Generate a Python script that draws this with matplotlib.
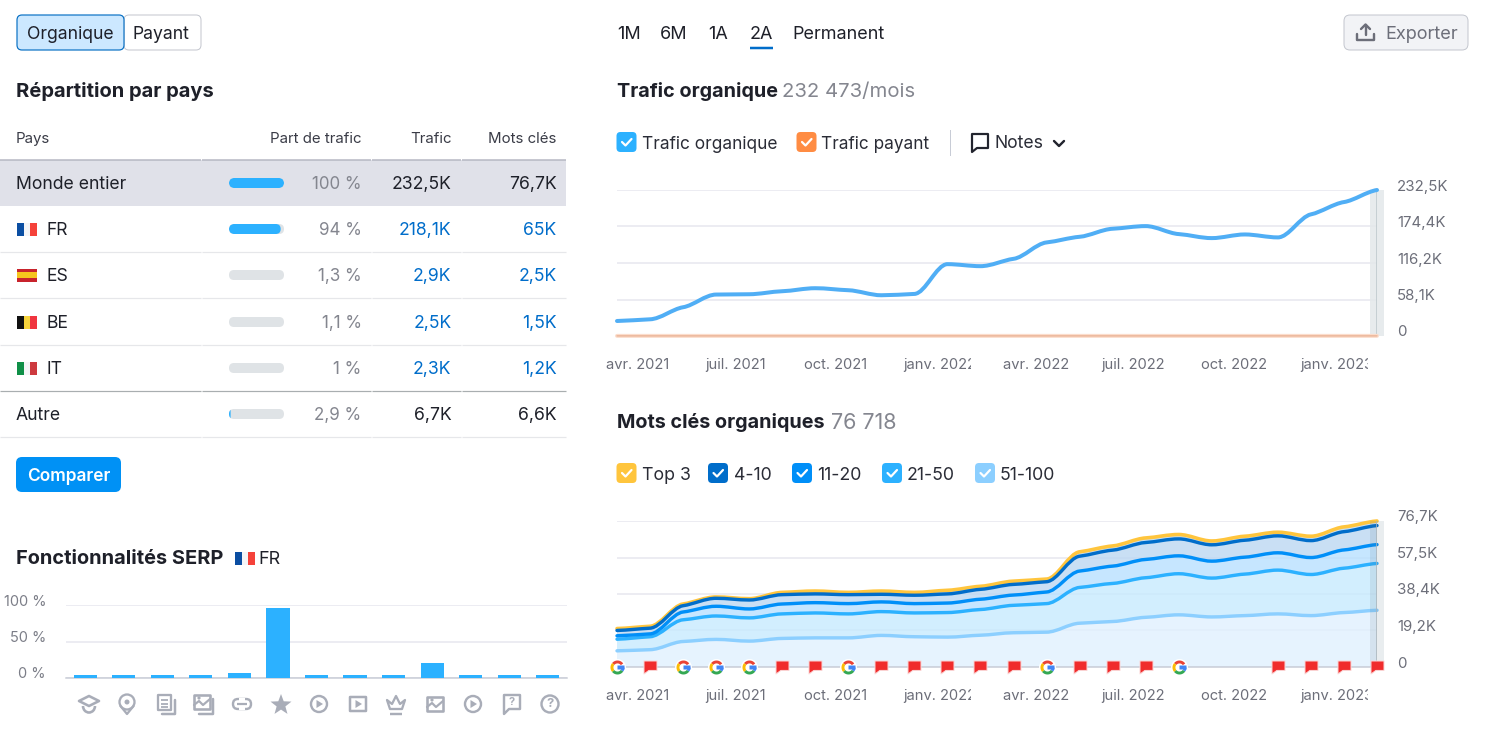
#!/usr/bin/env python
"""Semrush style overview panel: country table, SERP features, traffic and keywords."""
import numpy as np
import matplotlib
matplotlib.use("Agg")
import matplotlib.pyplot as plt
from matplotlib.patches import Circle, FancyBboxPatch, PathPatch, Polygon, Rectangle, Arc
from matplotlib.path import Path
from matplotlib.transforms import Bbox, ScaledTranslation

W, H = 1485, 736
FONT = ["Inter", "DejaVu Sans"]
INK = "#1e2029"
GREY = "#6c6e79"
LINK = "#006dca"
GRID = "#e6e7ef"
ICON = "#a9adb8"

# country table
rows = ["Monde entier", "FR", "ES", "BE", "IT", "Autre"]
part = [100, 94, 1.3, 1.1, 1, 2.9]
part_labels = ["100 %", "94 %", "1,3 %", "1,1 %", "1 %", "2,9 %"]
trafic_labels = ["232,5K", "218,1K", "2,9K", "2,5K", "2,3K", "6,7K"]
mots_labels = ["76,7K", "65K", "2,5K", "1,5K", "1,2K", "6,6K"]

# SERP features
serp_values = [4, 4, 4, 4, 6.5, 96, 4, 4, 4, 20, 4, 4, 4]
serp_ticks = [0, 50, 100]
serp_ticklabels = ["0 %", "50 %", "100 %"]

# monthly series, avr. 2021 -> mars 2023
trafic = [23.9, 26.6, 45.8, 66.0, 66.5, 71.3, 76.1, 72.9, 64.9, 67.0, 114.4, 111.2,
          122.9, 149.0, 158.0, 170.8, 175.0, 162.3, 155.9, 161.7, 157.0, 193.7, 213.3, 232.5]
payant = [0.2] * 24
top3 = [20.2, 21.4, 33.1, 36.8, 35.9, 39.2, 39.9, 39.2, 39.9, 39.2, 40.3, 42.4,
        45.1, 46.2, 60.5, 63.6, 67.8, 69.6, 66.2, 68.7, 70.8, 68.7, 73.6, 76.7]
pos_4_10 = [19.2, 20.4, 32.2, 36.1, 35.2, 38.0, 38.4, 38.0, 38.2, 37.7, 38.4, 40.8,
            43.4, 44.8, 58.2, 61.4, 65.4, 67.3, 64.2, 66.6, 68.9, 66.4, 71.1, 74.3]
pos_11_20 = [16.4, 17.4, 28.9, 31.9, 30.5, 33.1, 33.8, 33.3, 34.2, 33.3, 33.6, 35.6,
             37.8, 39.4, 50.4, 53.0, 56.5, 58.4, 55.6, 57.7, 60.0, 57.5, 61.5, 64.3]
pos_21_50 = [14.6, 15.9, 24.8, 26.8, 25.8, 27.9, 28.4, 27.9, 29.1, 28.4, 28.6, 30.2,
             32.4, 33.3, 41.8, 43.9, 46.9, 49.0, 46.7, 48.8, 50.9, 48.6, 51.9, 54.4]
pos_51_100 = [8.5, 9.1, 13.4, 14.5, 13.6, 15.0, 15.3, 15.3, 16.6, 15.9, 15.7, 16.7,
              18.0, 18.3, 23.0, 23.9, 26.1, 27.4, 26.3, 27.0, 27.9, 27.0, 28.6, 29.8]

date_ticks = [0, 3, 6, 9, 12, 15, 18, 21]
date_labels = ["avr. 2021", "juil. 2021", "oct. 2021", "janv. 2022",
               "avr. 2022", "juil. 2022", "oct. 2022", "janv. 2023"]
trafic_ticks = [0, 58.1, 116.2, 174.4, 232.5]
trafic_ticklabels = ["0", "58,1K", "116,2K", "174,4K", "232,5K"]
mots_ticks = [0, 19.2, 38.4, 57.5, 76.7]
mots_ticklabels = ["0", "19,2K", "38,4K", "57,5K", "76,7K"]

# notes under the keyword chart (month index)
google_events = [0, 2, 3, 4, 7, 13, 17]
flag_events = [1, 5, 6, 8, 9, 10, 11, 12, 14, 15, 16, 20, 21, 22, 23]


def pt(px):
    return px * 0.72


fig = plt.figure(figsize=(W / 100, H / 100), dpi=100, facecolor="white")
ui = fig.add_axes([0, 0, 1, 1], zorder=0)
ui.set_xlim(0, W)
ui.set_ylim(H, 0)
ui.axis("off")


def txt(x, y, s, size=16, color=INK, ha="left", weight="normal"):
    return ui.text(x, y, s, fontsize=pt(size), color=color, ha=ha, va="center_baseline",
                   family=FONT, fontweight=weight)


def rbox(x0, y0, x1, y1, r, fc, ec="none", lw=1, z=2):
    p = FancyBboxPatch((x0 + r, y0 + r), x1 - x0 - 2 * r, y1 - y0 - 2 * r,
                       boxstyle=f"round,pad={r},rounding_size={r}", fc=fc, ec=ec,
                       lw=pt(lw), zorder=z)
    ui.add_patch(p)
    return p


def hline(x0, x1, y, color, lw=1.0):
    ui.plot([x0, x1], [y, y], color=color, lw=pt(lw), solid_capstyle="butt")


def stroke(points, color=ICON, lw=2.0, closed=False, z=3):
    ui.add_patch(Polygon(points, closed=closed, fill=False, ec=color, lw=pt(lw), zorder=z,
                         joinstyle="round", capstyle="round"))


def checkbox(x, y, color):
    rbox(x, y, x + 20, y + 20, 4, color)
    stroke([(x + 5.5, y + 10), (x + 9, y + 13.5), (x + 15, y + 7)], "white", 2.2, z=4)


def flag(x, cy, colors, horizontal=False):
    w, h = 20, 13
    if horizontal:
        ui.add_patch(Rectangle((x, cy - h / 2), w, h, fc=colors[0], ec="none"))
        ui.add_patch(Rectangle((x, cy - h / 4), w, h / 2, fc=colors[1], ec="none"))
        return
    for i, c in enumerate(colors):
        ui.add_patch(Rectangle((x + i * w / 3, cy - h / 2), w / 3, h, fc=c, ec="none"))


def px_axes(left, top, right, bottom):
    a = fig.add_axes([left / W, 1 - bottom / H, (right - left) / W, (bottom - top) / H], zorder=2)
    a.patch.set_alpha(0)
    for s in a.spines.values():
        s.set_visible(False)
    return a


def mono_curve(x, y, flat=0.45):
    """Bezier vertices through the points, tangents eased so each month makes a small shelf."""
    x = np.asarray(x, float)
    y = np.asarray(y, float)
    sec = np.diff(y) / np.diff(x)
    m = np.zeros(len(x))
    for i in range(1, len(x) - 1):
        if sec[i - 1] * sec[i] > 0:
            m[i] = flat * 2 * sec[i - 1] * sec[i] / (sec[i - 1] + sec[i])
    m[0], m[-1] = flat * sec[0], flat * sec[-1]
    verts = [(x[0], y[0])]
    for i in range(len(x) - 1):
        h = (x[i + 1] - x[i]) / 3
        verts += [(x[i] + h, y[i] + m[i] * h), (x[i + 1] - h, y[i + 1] - m[i + 1] * h),
                  (x[i + 1], y[i + 1])]
    return verts


def draw_line(ax, x, y, color, lw=3.0, z=4):
    v = mono_curve(x, y)
    codes = [Path.MOVETO] + [Path.CURVE4] * (len(v) - 1)
    ax.add_patch(PathPatch(Path(v, codes), fc="none", ec=color, lw=pt(lw), zorder=z,
                           clip_on=False, capstyle="round"))


def draw_band(ax, x, upper, lower, color, alpha, z=2):
    top = mono_curve(x, upper)
    bot = mono_curve(x, lower)[::-1]
    curve = [Path.CURVE4] * (len(top) - 1)
    codes = [Path.MOVETO] + curve + [Path.LINETO] + curve + [Path.CLOSEPOLY]
    verts = top + bot + [top[0]]
    ax.add_patch(PathPatch(Path(verts, codes), fc=color, ec="none", alpha=alpha, zorder=z))


def style_time_axis(ax, ymax, ticks, ticklabels):
    ax.set_xlim(0, 23)
    ax.set_ylim(0, ymax)
    ax.set_yticks(ticks, ticklabels)
    ax.yaxis.tick_right()
    ax.grid(axis="y", color=GRID, lw=pt(1.5))
    ax.set_axisbelow(True)
    ax.tick_params(axis="y", length=0, pad=pt(20), labelsize=pt(15), labelcolor=GREY)
    up = ScaledTranslation(0, 5 / 100, fig.dpi_scale_trans)
    for lab in ax.get_yticklabels():
        lab.set_family(FONT)
        lab.set_transform(lab.get_transform() + up)
    ax.set_xticks(date_ticks, date_labels)
    ax.tick_params(axis="x", length=0, pad=pt(22), labelsize=pt(14.7), labelcolor=GREY)
    shift = ScaledTranslation(-11 / 100, 0, fig.dpi_scale_trans)
    for i, lab in enumerate(ax.get_xticklabels()):
        lab.set_family(FONT)
        lab.set_ha("left")
        lab.set_transform(lab.get_transform() + shift)
        # the axis clips each label to its slot
        left = 617 + date_ticks[i] * 760 / 23 - 11
        lab.set_clip_box(Bbox([[left - 2, 0], [left + 68, H]]))
        lab.set_clip_on(True)


# ---- left column ----
rbox(124, 15, 201, 50, 5, "white", "#c4c7cf", 1)
rbox(17, 15, 124, 50, 5, "#cce8ff", "#0a71c4", 1.2, z=3)
txt(27, 32.5, "Organique", 17.6).set_zorder(4)
txt(133, 32.5, "Payant", 17.6)
txt(16, 89.5, "Répartition par pays", 20.1, weight="bold")

txt(16, 137.5, "Pays", 15, "#3a3c47")
txt(361.5, 137.5, "Part de trafic", 15, "#3a3c47", "right")
txt(451.5, 137.5, "Trafic", 15, "#3a3c47", "right")
txt(556.5, 137.5, "Mots clés", 15, "#3a3c47", "right")

ui.add_patch(Rectangle((0, 160), 566, 46, fc="#e0e1e9", ec="none"))
for x0, x1 in [(0, 201), (202, 371), (372, 461), (462, 566)]:
    hline(x0, x1, 159.5, "#b5b7c2", 1.5)
    hline(x0, x1, 251.5, "#e6e7ea", 1.2)
    hline(x0, x1, 297.5, "#e6e7ea", 1.2)
    hline(x0, x1, 344.5, "#e6e7ea", 1.2)
    hline(x0, x1, 390.5, "#a9aeb0", 1.2)
    hline(x0, x1, 436.5, "#e6e7ea", 1.2)

row_y = [182.5, 228.5, 274.5, 321.5, 367.5, 413.5]
flags = {"FR": (["#0b4ea2", "#f4f5f7", "#f5423a"], False),
         "ES": (["#c8232c", "#f6c51d"], True),
         "BE": (["#111111", "#f6d33c", "#f0353f"], False),
         "IT": (["#0f8f47", "#f4f5f7", "#cd3a3f"], False)}
for i, name in enumerate(rows):
    y = row_y[i]
    if name in flags:
        flag(17, y + 0.5, *flags[name])
        txt(46, y, name, 17.6)
    else:
        txt(16, y, name, 17.6)
    track = rbox(229, y - 4.5, 284, y + 5.5, 5, "#dfe3e6")
    # slivers under 2 % don't show past the rounded end of the track
    if part[i] >= 2:
        w_fill = 55 * part[i] / 100
        bar = rbox(229, y - 4.5, 229 + w_fill, y + 5.5, min(5, w_fill / 2), "#2cb1ff", z=3)
        bar.set_clip_path(track)
    txt(361.5, y, part_labels[i], 17, "#84868f", "right")
    is_link = name in flags
    txt(451.5, y, trafic_labels[i], 17.6, LINK if is_link else INK, "right")
    txt(556.5, y, mots_labels[i], 17.6, LINK if is_link else INK, "right")

rbox(16, 457, 121, 492, 6, "#0091f5")
txt(68.5, 474.5, "Comparer", 17.3, "white", "center", "semibold")

txt(16, 557, "Fonctionnalités SERP", 20, weight="bold")
flag(235, 558, flags["FR"][0])
txt(258, 558, "FR", 18)

ax_serp = px_axes(66, 605, 567, 678)
ax_serp.bar(range(len(serp_values)), serp_values, width=0.6, color="#2cb1ff", zorder=3)
ax_serp.set_xlim(-0.5, 12.5)
ax_serp.set_ylim(0, 100)
ax_serp.set_xticks([])
ax_serp.set_yticks(serp_ticks, serp_ticklabels)
ax_serp.grid(axis="y", color=GRID, lw=pt(1.5))
ax_serp.set_axisbelow(True)
ax_serp.tick_params(axis="y", length=0, pad=pt(20), labelsize=pt(14.5), labelcolor="#7c7e88")
up5 = ScaledTranslation(0, 5 / 100, fig.dpi_scale_trans)
for lab in ax_serp.get_yticklabels():
    lab.set_family(FONT)
    lab.set_transform(lab.get_transform() + up5)
ax_serp.spines["bottom"].set_visible(True)
ax_serp.spines["bottom"].set_color("#c8ccd6")
ax_serp.spines["bottom"].set_linewidth(pt(1.5))


# SERP icons, one small drawing each
def ic_cap(c, y):
    stroke([(c - 10, y - 3), (c, y - 8), (c + 10, y - 3), (c, y + 2)], closed=True, lw=2.6)
    ui.add_patch(Arc((c, y + 2), 12, 13, theta1=0, theta2=180, ec=ICON, lw=pt(2.6)))


def ic_pin(c, y):
    ui.add_patch(Circle((c, y - 2), 7.5, fill=False, ec=ICON, lw=pt(2.3)))
    stroke([(c - 6.5, y + 2), (c, y + 10), (c + 6.5, y + 2)], lw=2.3)
    ui.add_patch(Circle((c, y - 2), 2.5, fc=ICON, ec="none"))


def ic_doc(c, y):
    stroke([(c - 8, y - 9), (c + 5, y - 9), (c + 5, y + 6), (c - 8, y + 6)], closed=True, lw=2.3)
    stroke([(c + 9, y - 4), (c + 9, y + 10), (c - 4, y + 10)], lw=2.5)
    hline(c - 5, c + 2, y - 4, ICON, 1.8)
    hline(c - 5, c + 2, y, ICON, 1.8)
    hline(c - 5, c + 2, y + 3, ICON, 1.8)


def ic_image(c, y, shadow=False):
    dx = 2 if shadow else 0
    w, h = 8, 7
    stroke([(c - w - dx, y - h - dx), (c + w - dx, y - h - dx), (c + w - dx, y + h - dx),
            (c - w - dx, y + h - dx)], closed=True, lw=2.6)
    stroke([(c - w - dx, y + 3 - dx), (c - 3 - dx, y - 1 - dx), (c + 1 - dx, y + 3 - dx),
            (c + w - dx, y - 3 - dx)], lw=2.2)
    ui.add_patch(Circle((c - 3 - dx, y - 4 - dx), 1.6, fc=ICON, ec="none"))
    if shadow:
        stroke([(c + 9, y - 5), (c + 9, y + 10), (c - 5, y + 10)], lw=2.5)


def ic_link(c, y):
    ui.add_patch(FancyBboxPatch((c - 7, y - 3), 14, 6, boxstyle="round,pad=2,rounding_size=5",
                                fill=False, ec=ICON, lw=pt(2.4)))
    ui.add_patch(Rectangle((c - 3, y - 6), 6, 3.5, fc="white", ec="none", zorder=3))
    ui.add_patch(Rectangle((c - 3, y + 2.5), 6, 3.5, fc="white", ec="none", zorder=3))
    hline(c - 5, c + 5, y, ICON, 2.2)


def ic_star(c, y):
    ang = np.radians(np.arange(10) * 36 - 90)
    rad = np.where(np.arange(10) % 2 == 0, 11, 4.6)
    ui.add_patch(Polygon(np.c_[c + rad * np.cos(ang), y + 1 + rad * np.sin(ang)], fc=ICON, ec="none"))


def ic_play(c, y):
    ui.add_patch(Circle((c, y), 8, fill=False, ec=ICON, lw=pt(2.4)))
    ui.add_patch(Polygon([(c - 2.5, y - 4), (c + 4, y), (c - 2.5, y + 4)], fc=ICON, ec="none"))


def ic_play_square(c, y):
    stroke([(c - 8, y - 7), (c + 8, y - 7), (c + 8, y + 7), (c - 8, y + 7)], closed=True, lw=2.5)
    ui.add_patch(Polygon([(c - 2.5, y - 4), (c + 4, y), (c - 2.5, y + 4)], fc=ICON, ec="none"))


def ic_crown(c, y):
    stroke([(c - 9, y - 4), (c - 4, y), (c, y - 8), (c + 4, y), (c + 9, y - 4), (c + 6, y + 5),
            (c - 6, y + 5)], closed=True, lw=2.3)
    hline(c - 6, c + 6, y + 10, ICON, 2.4)


def ic_bubble(c, y):
    stroke([(c - 8, y - 9), (c + 8, y - 9), (c + 8, y + 5), (c - 3, y + 5), (c - 8, y + 10)],
           closed=True, lw=2.4)
    ui.text(c, y - 2, "?", fontsize=pt(11), color=ICON, ha="center", va="center", family=FONT,
            fontweight="bold")


def ic_help(c, y):
    ui.add_patch(Circle((c, y), 8.5, fill=False, ec=ICON, lw=pt(2.4)))
    ui.text(c, y, "?", fontsize=pt(13), color=ICON, ha="center", va="center", family=FONT,
            fontweight="bold")


icon_x = [89, 127, 166, 204, 242, 281, 319, 358, 396, 435, 473, 512, 550]
icon_fn = [ic_cap, ic_pin, ic_doc, lambda c, y: ic_image(c, y, True), ic_link, ic_star, ic_play,
           ic_play_square, ic_crown, ic_image, ic_play, ic_bubble, ic_help]
for cx, fn in zip(icon_x, icon_fn):
    fn(cx, 704)

# ---- right column, top bar ----
for x, s in [(617, "1M"), (660, "6M"), (708, "1A"), (750, "2A"), (792, "Permanent")]:
    txt(x, 32.5, s, 18)
hline(750, 773, 48, LINK, 2.5)

rbox(1344, 15, 1468, 50, 6, "#f2f3f6", "#c4c7cf", 1)
stroke([(1357, 34), (1357, 40), (1374, 40), (1374, 34)], GREY, 2.4)
stroke([(1365.5, 35), (1365.5, 25)], GREY, 2.4)
stroke([(1361, 29), (1365.5, 24.5), (1370, 29)], GREY, 2.4)
txt(1385, 32.5, "Exporter", 18.2, GREY)

# ---- traffic chart ----
txt(617, 89.5, "Trafic organique", 19.8, weight="bold")
txt(782, 90, "232 473/mois", 20.3, "#84868f")
checkbox(616.5, 132, "#2cb1ff")
txt(642, 142.5, "Trafic organique", 17.3, "#2a2c36")
checkbox(796.5, 132, "#ff8c43")
txt(821, 142.5, "Trafic payant", 17.2, "#2a2c36")
ui.plot([950, 950], [130, 155], color="#c8ccd6", lw=pt(1))
stroke([(972, 134), (988, 134), (988, 148), (977, 148), (972, 152)], "#22242e", 2.2, closed=True)
txt(995, 142, "Notes", 17.6, "#2a2c36")
stroke([(1054, 141), (1059, 146), (1064, 141)], "#22242e", 2.4)

months = np.arange(len(trafic))
ax_tr = px_axes(617, 190, 1377, 336)
style_time_axis(ax_tr, 232.5, trafic_ticks, trafic_ticklabels)
ax_tr.axvspan(23 - 7 / 33, 23 + 7 / 33, color="#e3e8ea", alpha=0.85, zorder=1, clip_on=False, lw=0)
ax_tr.axvline(23, color="#bcc6cb", lw=pt(1.5), zorder=1)
draw_line(ax_tr, months, payant, "#fbdccb", 4, z=3)
draw_line(ax_tr, months, payant, "#ecb79a", 1.5, z=3)
draw_line(ax_tr, months, trafic, "#50aef5", 4)

# ---- keywords chart ----
txt(617, 420.5, "Mots clés organiques", 19.8, weight="bold")
txt(831, 421, "76 718", 21.5, "#84868f")
for x_box, x_txt, label, color in [(616.5, 642, "Top 3", "#ffc53d"), (708, 734, "4-10", "#006dca"),
                                   (792, 817, "11-20", "#008ff8"), (882, 907, "21-50", "#2cb1ff"),
                                   (975, 1000, "51-100", "#8ccfff")]:
    checkbox(x_box, 463, color)
    txt(x_txt, 474, label, 17.7, "#2a2c36")

ax_kw = px_axes(617, 521, 1377, 667)
style_time_axis(ax_kw, 76.7, mots_ticks, mots_ticklabels)
ax_kw.spines["bottom"].set_visible(True)
ax_kw.spines["bottom"].set_color("#c8ccd6")
ax_kw.spines["bottom"].set_linewidth(pt(1.5))
zeros = [0] * len(months)
draw_band(ax_kw, months, pos_51_100, zeros, "#e0f1fe", 0.8)
draw_band(ax_kw, months, pos_21_50, pos_51_100, "#c7eafe", 0.8)
draw_band(ax_kw, months, pos_11_20, pos_21_50, "#b8e0ff", 0.8)
draw_band(ax_kw, months, pos_4_10, pos_11_20, "#bcd7f2", 0.8)
draw_band(ax_kw, months, top3, pos_4_10, "#bcd7f2", 0.8)
draw_line(ax_kw, months, pos_51_100, "#8ccfff", 3.4, z=4)
draw_line(ax_kw, months, pos_21_50, "#2cb1ff", 3.4, z=4)
draw_line(ax_kw, months, pos_11_20, "#008ff8", 3.4, z=4)
draw_line(ax_kw, months, top3, "#ffc53d", 3.6, z=4)
draw_line(ax_kw, months, pos_4_10, "#006dca", 3.4, z=5)
ax_kw.axvspan(23 - 7 / 33, 23 + 7 / 33, color="#5b7687", alpha=0.13, zorder=6, clip_on=False, lw=0)
ax_kw.axvline(23, color="#aab4ba", lw=pt(1.5), zorder=6)

# event markers
theta = np.radians


def ring(a0, a1):
    a = theta(np.linspace(a0, a1, 24))
    v = np.r_[np.c_[np.cos(a), np.sin(a)], np.c_[0.58 * np.cos(a[::-1]), 0.58 * np.sin(a[::-1])]]
    return Path(np.r_[v, v[:1]], closed=True)


g_red = ring(35, 140)
g_yellow = ring(140, 220)
g_green = ring(220, 325)
g_blue = Path([(0.0, -0.22), (1.0, -0.22), (1.0, 0.22), (0.0, 0.22), (0.0, -0.22)], closed=True)
g_blue2 = ring(-35, 0)
flag_marker = Path([(-1, 1), (1, 1), (1, -0.45), (-0.25, -0.45), (-1, -1), (-1, 1)], closed=True)

gz = [0] * len(google_events)
fz = [0] * len(flag_events)
ms_g = pt(14)
ax_kw.plot(google_events, gz, ls="none", marker="o", ms=pt(17), mfc="white", mec="none",
           clip_on=False, zorder=7)
for m, col in [(g_red, "#ea4335"), (g_yellow, "#fbbc05"), (g_green, "#34a853"),
               (g_blue, "#4285f4"), (g_blue2, "#4285f4")]:
    ax_kw.plot(google_events, gz, ls="none", marker=m, ms=ms_g, mfc=col, mec="none",
               clip_on=False, zorder=8)
ax_kw.plot(flag_events, fz, ls="none", marker=flag_marker, ms=pt(13), mfc="#f02c2c", mec="#fbd5d5",
           mew=pt(1), clip_on=False, zorder=8)

fig.savefig("out.png", dpi=100)
